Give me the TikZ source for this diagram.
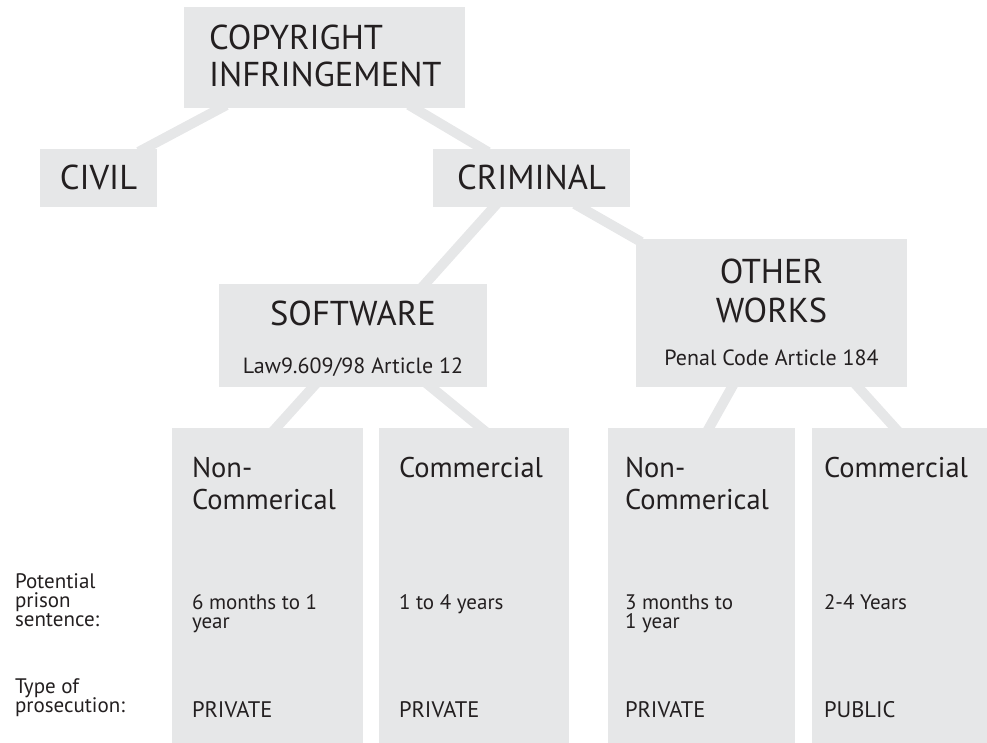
\documentclass[tikz,border=0pt]{standalone}
\usepackage{fontspec}
\setmainfont{PT Sans}
\usetikzlibrary{calc}
\definecolor{boxgray}{HTML}{E6E7E8}
\definecolor{ink}{HTML}{231F20}
\begin{document}
\begin{tikzpicture}[x=1pt,y=-1pt,
  box/.style={fill=boxgray, draw=none, inner sep=0pt, outer sep=0pt, anchor=north west},
  conn/.style={draw=boxgray, line width=10pt, shorten <=-6pt, shorten >=-6pt},
  big/.style={font=\fontsize{34.5}{38}\selectfont, text=ink, inner sep=0pt, outer sep=0pt},
  mid/.style={font=\fontsize{28.5}{32}\selectfont, text=ink, inner sep=0pt, outer sep=0pt, anchor=base west},
  small/.style={font=\fontsize{21}{21}\selectfont, text=ink, inner sep=0pt, outer sep=0pt, anchor=base west},
  caps/.style={font=\fontsize{22.5}{22}\selectfont, text=ink, inner sep=0pt, outer sep=0pt, anchor=base west},
  sub/.style={font=\fontsize{22}{22}\selectfont, text=ink, inner sep=0pt, outer sep=0pt, anchor=base},
]
\useasboundingbox (0,0) rectangle (987,743);

% boxes
\node[box, minimum width=281pt, minimum height=101pt] (top) at (184,7) {};
\node[box, minimum width=117pt, minimum height=58pt] (civil) at (40,149) {};
\node[box, minimum width=197pt, minimum height=58pt] (criminal) at (433,149) {};
\node[box, minimum width=268pt, minimum height=103pt] (software) at (219,284) {};
\node[box, minimum width=271pt, minimum height=148pt] (other) at (636,239) {};
\node[box, minimum width=191pt, minimum height=315pt] (col1) at (172,428) {};
\node[box, minimum width=190pt, minimum height=315pt] (col2) at (379,428) {};
\node[box, minimum width=187pt, minimum height=315pt] (col3) at (608,428) {};
\node[box, minimum width=175pt, minimum height=315pt] (col4) at (812,428) {};

% connectors
\draw[conn] ($(top.south west)+(37,0)$) -- ($(civil.north west)+(104,0)$);
\draw[conn] ($(top.south west)+(230,0)$) -- ($(criminal.north west)+(50,0)$);
\draw[conn] ($(criminal.south west)+(61,0)$) -- ($(software.north west)+(206,0)$);
\draw[conn] ($(criminal.south west)+(147,0)$) -- ($(other.north west)+(0,0)$);
\draw[conn] ($(software.south west)+(94,0)$) -- ($(col1.north west)+(104,0)$);
\draw[conn] ($(software.south west)+(212,0)$) -- ($(col2.north west)+(102,0)$);
\draw[conn] ($(other.south west)+(96,0)$) -- ($(col3.north west)+(101,0)$);
\draw[conn] ($(other.south west)+(222,0)$) -- ($(col4.north west)+(83,0)$);

% headings
\node[big, anchor=base west] (t1) at (209,50) {COPYRIGHT};
\node[big, anchor=base west] (t2) at (209,87) {INFRINGEMENT};
\node[big, anchor=base] (t3) at (98.5,190) {CIVIL};
\node[big, anchor=base] (t4) at (531.5,190) {CRIMINAL};
\node[big, anchor=base] (t5) at (353,325) {SOFTWARE};
\node[sub] (t6) at (353,373) {Law9.609/98 Article 12};
\node[big, anchor=base] (t7) at (771.5,283) {OTHER};
\node[big, anchor=base] (t8) at (771.5,322) {WORKS};
\node[sub] (t9) at (771.5,365) {Penal Code Article 184};

% column headers
\node[mid] (h1a) at (192,477) {Non-};
\node[mid] (h1b) at (192,509) {Commerical};
\node[mid] (h2) at (399,477) {Commercial};
\node[mid] (h3a) at (625,477) {Non-};
\node[mid] (h3b) at (625,509) {Commerical};
\node[mid] (h4) at (824,477) {Commercial};

% sentences
\node[small] (s1a) at (192,609) {6 months to 1};
\node[small] (s1b) at (192,628) {year};
\node[small] (s2) at (399,609) {1 to 4 years};
\node[small] (s3a) at (625,609) {3 months to};
\node[small] (s3b) at (625,628) {1 year};
\node[small] (s4) at (824,609) {2-4 Years};

% prosecution
\node[caps] (p1) at (192,717) {PRIVATE};
\node[caps] (p2) at (399,717) {PRIVATE};
\node[caps] (p3) at (625,717) {PRIVATE};
\node[caps] (p4) at (824,717) {PUBLIC};

% row labels
\node[small] (l1) at (15,588) {Potential};
\node[small] (l2) at (15,607) {prison};
\node[small] (l3) at (15,626) {sentence:};
\node[small] (l4) at (15,693) {Type of};
\node[small] (l5) at (15,712) {prosecution:};
\end{tikzpicture}
\end{document}
